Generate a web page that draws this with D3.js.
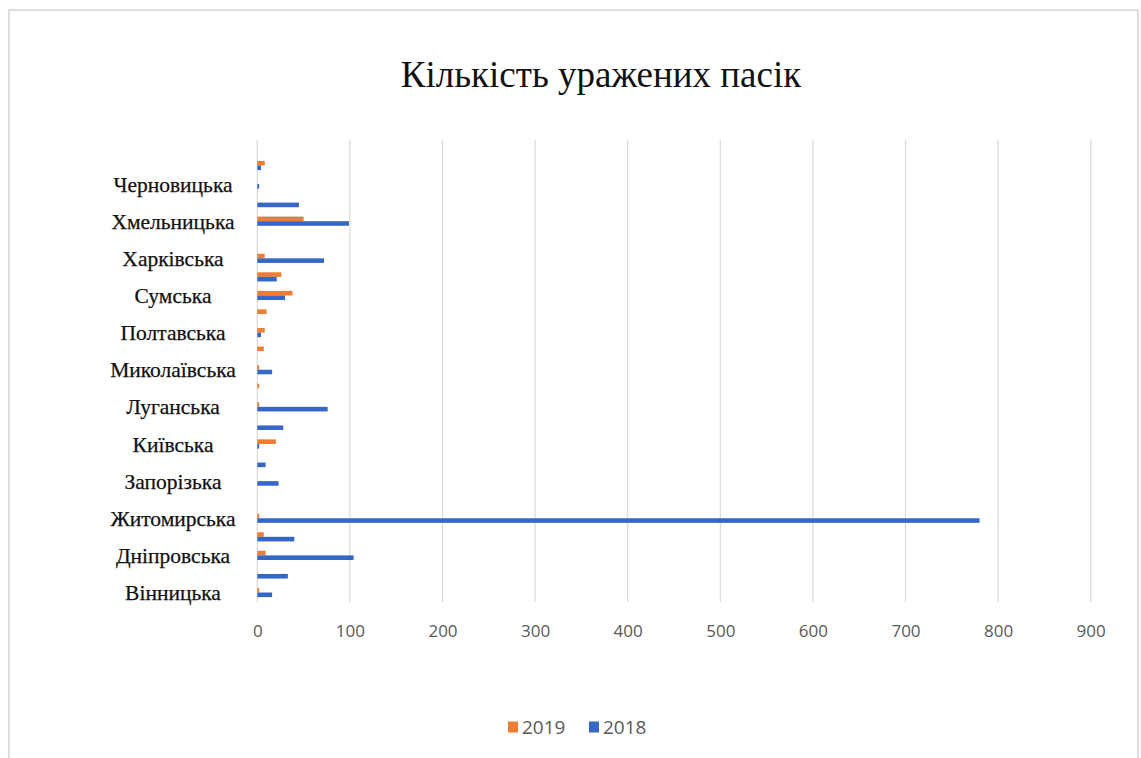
<!DOCTYPE html>
<html>
<head>
<meta charset="utf-8">
<script src="https://cdn.jsdelivr.net/npm/d3@7"></script>
<style>
  html, body { margin: 0; padding: 0; background: #fff; }
  svg { display: block; }
</style>
</head>
<body>
<svg id="chart" width="1141" height="758"></svg>
<script>
// Regions, listed from the bottom of the chart to the top
const regions = [
  "Вінницька", "Волинська", "Дніпровська", "Донецька", "Житомирська",
  "Закарпатська", "Запорізька", "Івано-Франківська", "Київська", "Кіровоградська",
  "Луганська", "Львівська", "Миколаївська", "Одеська", "Полтавська",
  "Рівненська", "Сумська", "Тернопільська", "Харківська", "Херсонська",
  "Хмельницька", "Черкаська", "Черновицька", "Чернігівська"
];
// Affected apiaries per region
const values2019 = [2, 0, 9, 7, 2, 0, 0, 0, 20, 0, 2, 2, 2, 7, 8, 10, 38, 26, 8, 0, 50, 0, 0, 8];
const values2018 = [16, 33, 104, 40, 780, 0, 23, 9, 2, 28, 76, 0, 16, 0, 4, 0, 30, 21, 72, 0, 99, 45, 2, 4];
const seriesNames = ["2019", "2018"];
const xTicks = [0, 100, 200, 300, 400, 500, 600, 700, 800, 900];

const colors = { "2019": "#ED7D31", "2018": "#3568C6" };

const svg = d3.select("#chart");

// outer frame
svg.append("rect")
  .attr("x", 9).attr("y", 10)
  .attr("width", 1129).attr("height", 760)
  .attr("fill", "none")
  .attr("stroke", "#dedede")
  .attr("stroke-width", 2);

// title
svg.append("text")
  .attr("x", 601).attr("y", 87)
  .attr("text-anchor", "middle")
  .attr("font-family", "'Liberation Serif', 'Times New Roman', serif")
  .attr("font-size", 37)
  .attr("fill", "#111")
  .text("Кількість уражених пасік");

const x = d3.scaleLinear().domain([0, 900]).range([257.3, 1090.7]);

// top category sits at the top of the band range
const y = d3.scaleBand()
  .domain(regions.slice().reverse())
  .range([156.2, 601.8]);

const bw = y.bandwidth();
const barH = 4.6;
const ySub = d3.scaleBand()
  .domain(seriesNames)
  .range([bw / 2 - barH, bw / 2 + barH]);

// vertical gridlines
const gridTop = 140, gridBottom = 602;
svg.append("g")
  .selectAll("line")
  .data(xTicks)
  .join("line")
  .attr("x1", d => x(d)).attr("x2", d => x(d))
  .attr("y1", gridTop).attr("y2", gridBottom)
  .attr("stroke", "#d9d9d9")
  .attr("stroke-width", 1.2);

// x axis tick labels
const xAxis = d3.axisBottom(x).tickValues(xTicks).tickSize(0).tickPadding(0);
const gx = svg.append("g")
  .attr("transform", `translate(0, ${gridBottom + 29})`)
  .call(xAxis);
gx.select(".domain").remove();
gx.selectAll("text")
  .attr("font-family", "'Open Sans', 'Liberation Sans', sans-serif")
  .attr("font-size", 17)
  .attr("fill", "#595959")
  .attr("dy", "0.35em");

// bars
const rows = regions.map((r, i) => ({ region: r, "2019": values2019[i], "2018": values2018[i] }));
const groups = svg.append("g")
  .selectAll("g")
  .data(rows)
  .join("g")
  .attr("transform", d => `translate(0, ${y(d.region)})`);

groups.selectAll("rect")
  .data(d => seriesNames.map(k => ({ key: k, value: d[k] })))
  .join("rect")
  .attr("x", x(0))
  .attr("y", d => ySub(d.key))
  .attr("width", d => x(d.value) - x(0))
  .attr("height", ySub.bandwidth())
  .attr("fill", d => colors[d.key]);

// category labels: every other region is labelled
svg.append("g")
  .selectAll("text")
  .data(regions.filter((r, i) => i % 2 === 0))
  .join("text")
  .attr("x", 173)
  .attr("y", d => y(d) + bw / 2)
  .attr("dy", "0.35em")
  .attr("text-anchor", "middle")
  .attr("font-family", "'Liberation Serif', 'Times New Roman', serif")
  .attr("font-size", 21.5)
  .attr("fill", "#111")
  .attr("stroke", "#111")
  .attr("stroke-width", 0.25)
  .text(d => d);

// legend
const legend = svg.append("g").attr("transform", "translate(508, 727)");
const legendItems = legend.selectAll("g")
  .data(seriesNames)
  .join("g")
  .attr("transform", (d, i) => `translate(${i * 81}, 0)`);
legendItems.append("rect")
  .attr("x", 0).attr("y", -5.5)
  .attr("width", 10).attr("height", 11)
  .attr("fill", d => colors[d]);
legendItems.append("text")
  .attr("x", 14).attr("y", 0)
  .attr("dy", "0.35em")
  .attr("font-family", "'Open Sans', 'Liberation Sans', sans-serif")
  .attr("font-size", 19)
  .attr("fill", "#595959")
  .text(d => d);
</script>
</body>
</html>
